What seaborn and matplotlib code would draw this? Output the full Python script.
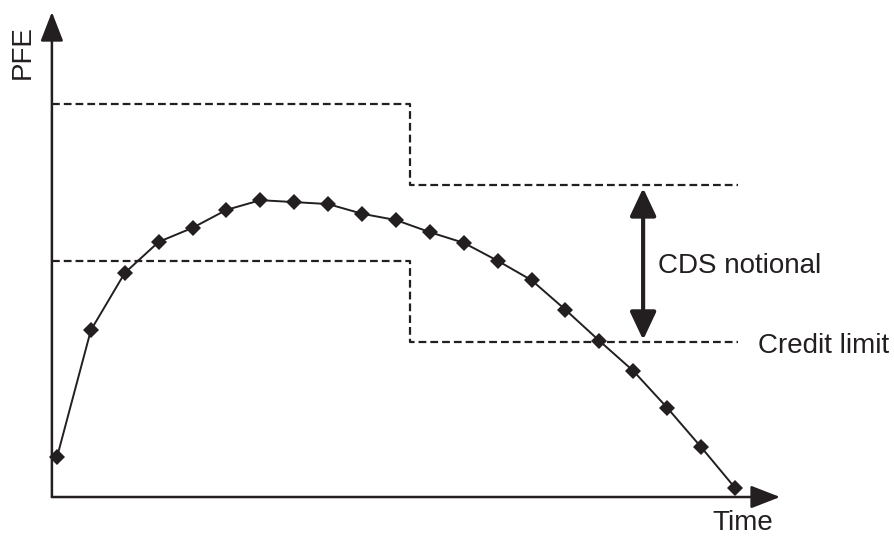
import numpy as np
import pandas as pd
import matplotlib
matplotlib.use("Agg")
import matplotlib.pyplot as plt
import seaborn as sns
from matplotlib.patches import FancyArrowPatch

# PFE profile (arbitrary units), one point per time step
time_steps = list(range(21))
pfe_values = [8.2, 34.4, 46.2, 52.6, 55.5, 59.2, 61.2, 60.8, 60.4, 58.4, 57.1,
              54.6, 52.4, 48.7, 44.7, 38.6, 32.2, 26.0, 18.4, 10.3, 1.9]

# step-shaped limits (before / after the step, then end of line)
limit_times = [-0.15, 10.41, 20.09]
cds_level = [81.0, 64.3, 64.3]
credit_limit = [48.7, 32.0, 32.0]

# double arrow for the CDS notional
notional_time = 17.29
notional_span = [63.7, 32.4]

df = pd.DataFrame({"Time": time_steps, "PFE": pfe_values})

sns.set_theme(style="white")
plt.rcParams["font.family"] = ["Liberation Sans", "DejaVu Sans"]

fig = plt.figure(figsize=(8.95, 5.38), dpi=100)
ax = fig.add_axes([0, 0, 1, 1])
ax.set_xlim(-1.681, 24.72)
ax.set_ylim(-8.45, 102.47)
ax.axis("off")

ink = "#231f20"

# dashed limits
ax.plot(limit_times, cds_level, drawstyle="steps-post", color=ink,
        lw=1.6, ls=(0, (3.5, 1.8)))
ax.plot(limit_times, credit_limit, drawstyle="steps-post", color=ink,
        lw=1.6, ls=(0, (3.5, 1.8)))

# PFE curve
sns.lineplot(data=df, x="Time", y="PFE", ax=ax, color=ink, lw=1.4,
             marker="D", markersize=8, markeredgewidth=0, zorder=3)

# axes with arrow heads
x0, y0 = -0.15, 0.0
for end in [(21.33, 0.0), (-0.15, 100.0)]:
    ax.add_patch(FancyArrowPatch((x0, y0), end, arrowstyle="-|>,head_length=0.9,head_width=0.35",
                                 mutation_scale=20, lw=1.8, color=ink,
                                 shrinkA=0, shrinkB=0))

# CDS notional double arrow
ax.add_patch(FancyArrowPatch((notional_time, notional_span[0]), (notional_time, notional_span[1]),
                             arrowstyle="<|-|>,head_length=0.85,head_width=0.4",
                             mutation_scale=20, lw=3, color=ink,
                             shrinkA=0, shrinkB=0))

ax.text(17.73, 47.6, "CDS notional", fontsize=20, color=ink,
        ha="left", va="center")
ax.text(20.68, 31.2, "Credit limit", fontsize=20, color=ink,
        ha="left", va="center")
ax.text(20.24, -6.9, "Time", fontsize=20, color=ink,
        ha="center", va="baseline")
ax.text(-0.8, 91.8, "PFE", fontsize=20, color=ink, rotation=90,
        rotation_mode="anchor", ha="center", va="baseline")

fig.savefig("out.png", dpi=100)
